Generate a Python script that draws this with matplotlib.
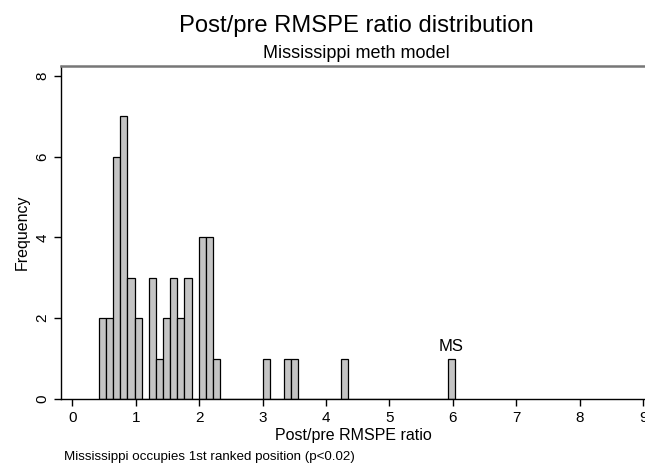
import numpy as np
import matplotlib.pyplot as plt

plt.rcParams['font.family'] = ['Liberation Sans', 'DejaVu Sans']

# histogram: 50 bins from min to max of the ratio
ratio_min = 0.419
ratio_max = 6.03
counts = [2, 2, 6, 7, 3, 2, 0, 3, 1, 2,
          3, 2, 3, 0, 4, 4, 1, 0, 0, 0,
          0, 0, 0, 1, 0, 0, 1, 1, 0, 0,
          0, 0, 0, 0, 1, 0, 0, 0, 0, 0,
          0, 0, 0, 0, 0, 0, 0, 0, 0, 1]
x_ticks = [0, 1, 2, 3, 4, 5, 6, 7, 8, 9]
y_ticks = [0, 2, 4, 6, 8]

edges = np.linspace(ratio_min, ratio_max, len(counts) + 1)
width = edges[1] - edges[0]

fig = plt.figure(figsize=(6.45, 4.66), dpi=100)
ax = fig.add_axes([0.0946, 0.1438, 0.9054, 0.7152])

ax.bar(edges[:-1], counts, width=width, align='edge',
       color='#c4c4c4', edgecolor='black', linewidth=0.9)

# label the treated unit (last bin)
ax.text(edges[-2] + width / 2, counts[-1] + 0.12, 'MS',
        ha='center', va='bottom', fontsize=12)

ax.set_xlim(-0.18, 9.03)
ax.set_ylim(0, 8.25)
ax.set_xticks(x_ticks)
ax.set_yticks(y_ticks)
ax.set_yticklabels([str(t) for t in y_ticks], rotation=90, va='center')
ax.tick_params(direction='out', length=5, width=1, labelsize=11)

ax.spines['right'].set_visible(False)
ax.spines['top'].set_color('#777777')
ax.spines['top'].set_linewidth(1.8)
ax.spines['left'].set_linewidth(1)
ax.spines['bottom'].set_linewidth(1)

ax.set_xlabel('Post/pre RMSPE ratio', fontsize=11.5, labelpad=2)
ax.set_ylabel('Frequency', fontsize=11.5, labelpad=4)

fig.text(0.553, 0.9313, 'Post/pre RMSPE ratio distribution',
         ha='center', va='baseline', fontsize=17.1)
fig.text(0.553, 0.8755, 'Mississippi meth model',
         ha='center', va='baseline', fontsize=13)
fig.text(0.099, 0.019, 'Mississippi occupies 1st ranked position (p<0.02)',
         ha='left', va='center', fontsize=9.6)

plt.savefig('out.png', dpi=100)
